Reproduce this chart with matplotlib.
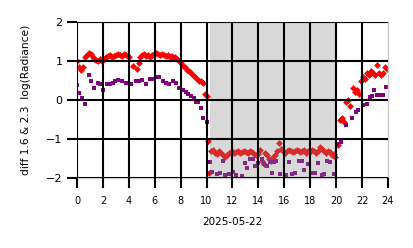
import matplotlib
matplotlib.use("Agg")
import matplotlib.pyplot as plt

# Red series (diamonds)
red_t = [0.0, 0.15, 0.3, 0.45, 0.6, 0.75, 0.9, 1.05, 1.2, 1.35, 1.5, 1.65, 1.8, 1.95,
         2.1, 2.25, 2.4, 2.55, 2.7, 2.85, 3.0, 3.15, 3.3, 3.45, 3.6, 3.75, 3.9, 4.05,
         4.3, 4.6, 4.75, 4.9, 5.05, 5.2, 5.35, 5.5, 5.65, 5.8, 5.95, 6.1, 6.25, 6.4,
         6.55, 6.7, 6.85, 7.0, 7.15, 7.3, 7.45, 7.6, 7.75, 7.9, 8.05, 8.2, 8.35, 8.5,
         8.65, 8.8, 8.95, 9.1, 9.25, 9.4, 9.55, 9.7, 9.85, 10.0,
         10.15, 10.2, 10.35, 10.5, 10.65, 10.8, 10.95, 11.1, 11.25, 11.4, 11.55, 11.7,
         11.85, 12.0, 12.15, 12.3, 12.45, 12.6, 12.75, 12.9, 13.05, 13.2, 13.35, 13.5,
         13.65, 13.8, 13.95, 14.1, 14.25, 14.4, 14.55, 14.7, 14.85, 15.0, 15.15, 15.3,
         15.45, 15.6, 15.75, 15.9, 16.05, 16.2, 16.35, 16.5, 16.65, 16.8, 16.95, 17.1,
         17.25, 17.4, 17.55, 17.7, 17.85, 18.0, 18.15, 18.3, 18.45, 18.6, 18.75, 18.9,
         19.05, 19.2, 19.35, 19.5, 19.65, 19.8, 19.95, 20.15,
         20.3, 20.45, 20.6, 20.8, 20.95, 21.1, 21.3, 21.45, 21.6, 21.75, 21.95, 22.1,
         22.25, 22.4, 22.55, 22.7, 22.85, 23.0, 23.15, 23.3, 23.45, 23.6, 23.75, 23.9]
red_v = [1.0, 0.85, 0.78, 0.85, 1.1, 1.15, 1.2, 1.18, 1.1, 1.05, 1.02, 1.0, 1.05, 1.0,
         1.05, 1.1, 1.12, 1.15, 1.1, 1.12, 1.15, 1.18, 1.15, 1.12, 1.18, 1.15, 1.12, 1.1,
         0.88, 0.8, 0.95, 1.1, 1.15, 1.18, 1.12, 1.15, 1.1, 1.15, 1.18, 1.2, 1.18, 1.15,
         1.18, 1.15, 1.12, 1.15, 1.1, 1.12, 1.08, 1.1, 1.05, 1.0, 0.95, 0.88, 0.85, 0.78,
         0.75, 0.7, 0.65, 0.6, 0.55, 0.5, 0.48, 0.45, 0.15, 0.1,
         -1.05, -1.87, -1.3, -1.28, -1.35, -1.38, -1.3, -1.35, -1.4, -1.45, -1.4, -1.35,
         -1.32, -1.3, -1.35, -1.32, -1.3, -1.35, -1.33, -1.3, -1.32, -1.35, -1.3, -1.32,
         -1.38, -1.4, -1.38, -1.28, -1.55, -1.65, -1.35, -1.4, -1.5, -1.55, -1.45, -1.4,
         -1.3, -1.1, -1.25, -1.3, -1.35, -1.3, -1.28, -1.3, -1.32, -1.3, -1.28, -1.3,
         -1.33, -1.3, -1.28, -1.35, -1.3, -1.32, -1.28, -1.3, -1.35, -1.3, -1.2, -1.25,
         -1.3, -1.35, -1.3, -1.32, -1.4, -1.38, -1.45, -1.15,
         -0.5, -0.45, -0.55, -0.05, 0.0, -0.15, 0.3, 0.2, 0.25, 0.15, 0.5, 0.6,
         0.55, 0.7, 0.65, 0.75, 0.7, 0.65, 0.9, 0.7, 0.65, 0.7, 0.85, 0.8]

# Purple series (squares)
pur_t = [0.0, 0.15, 0.35, 0.6, 0.95, 1.1, 1.35, 1.6, 1.8, 2.0, 2.3, 2.55, 2.8, 2.95,
         3.2, 3.45, 3.8, 4.2, 4.55, 4.8, 5.05, 5.3, 5.6, 5.85, 6.1, 6.35, 6.6, 6.85,
         7.1, 7.4, 7.65, 7.9, 8.15, 8.4, 8.6, 8.8, 9.0, 9.15, 9.35, 9.55, 9.75,
         10.05, 10.25, 10.45, 10.8, 11.0, 11.3, 11.45, 11.7, 12.05, 12.25, 12.7, 13.0,
         13.1, 13.35, 13.6, 13.75, 13.95, 14.3, 14.45, 14.7, 14.9, 15.05, 15.2, 15.35,
         15.7, 16.1, 16.4, 16.6, 16.85, 17.1, 17.35, 17.5, 17.8, 18.1, 18.35, 18.6,
         18.9, 19.1, 19.3, 19.5, 19.8, 20.1, 20.4, 20.8, 21.2, 21.5, 21.7, 22.1,
         22.35, 22.6, 22.8, 22.95, 23.15, 23.35, 23.6, 23.85]
pur_v = [0.38, 0.18, 0.05, -0.1, 0.64, 0.5, 0.3, 0.45, 0.42, 0.25, 0.42, 0.4, 0.45, 0.5,
         0.52, 0.5, 0.45, 0.4, 0.5, 0.48, 0.52, 0.4, 0.55, 0.55, 0.58, 0.6, 0.5, 0.45,
         0.42, 0.5, 0.45, 0.3, 0.25, 0.2, 0.15, 0.1, 0.05, -0.05, -0.05, -0.2, -0.45,
         -0.55, -1.58, -1.85, -1.9, -1.88, -1.55, -1.93, -1.9, -1.85, -1.92, -1.95, -1.62,
         -1.75, -1.5, -1.52, -1.7, -1.62, -1.5, -1.65, -1.7, -1.6, -1.88, -1.6, -1.55,
         -1.9, -1.92, -1.6, -1.9, -1.88, -1.55, -1.55, -1.8, -1.65, -1.87, -1.88, -1.62,
         -1.92, -1.9, -1.55, -1.58, -1.9, -1.13, -1.07, -0.65, -0.47, -0.3, -0.26, -0.12,
         -0.1, 0.08, 0.1, 0.25, 0.12, 0.12, 0.12, 0.33]

shade_start, shade_end = 10.25, 20.0
x_ticks = [0, 2, 4, 6, 8, 10, 12, 14, 16, 18, 20, 22, 24]
y_ticks = [-2, -1, 0, 1, 2]

fig = plt.figure(figsize=(4.14, 2.48), dpi=100)
ax = fig.add_axes([0.186, 0.282, 0.751, 0.629])

ax.scatter(red_t, red_v, marker='D', s=12, color='#ff0000', linewidths=0, zorder=2)
ax.scatter(pur_t, pur_v, marker='s', s=9, color='#800080', linewidths=0, zorder=2.1)
ax.axvspan(shade_start, shade_end, color='#888888', alpha=0.32, linewidth=0, zorder=2.3)

ax.set_xlim(0, 24)
ax.set_ylim(-2, 2)
ax.set_xticks(x_ticks)
ax.set_yticks(y_ticks)
ax.set_axisbelow(False)
ax.grid(True, color='black', linewidth=1.5, zorder=2.5)
ax.get_xgridlines()[-1].set_visible(False)
ax.tick_params(axis='x', labelsize=7, length=7.5, width=1.5, color='black', pad=5.5)
ax.tick_params(axis='y', labelsize=8, length=7.5, width=1.5, color='black', pad=3)
for s in ax.spines.values():
    s.set_color('#cccccc')
    s.set_linewidth(1.0)

ax.set_xlabel('2025-05-22', fontsize=7.5, labelpad=8)
ax.set_ylabel('diff 1.6 & 2.3  log(Radiance)', fontsize=7.7, labelpad=11)

fig.savefig('out.png', dpi=100)
